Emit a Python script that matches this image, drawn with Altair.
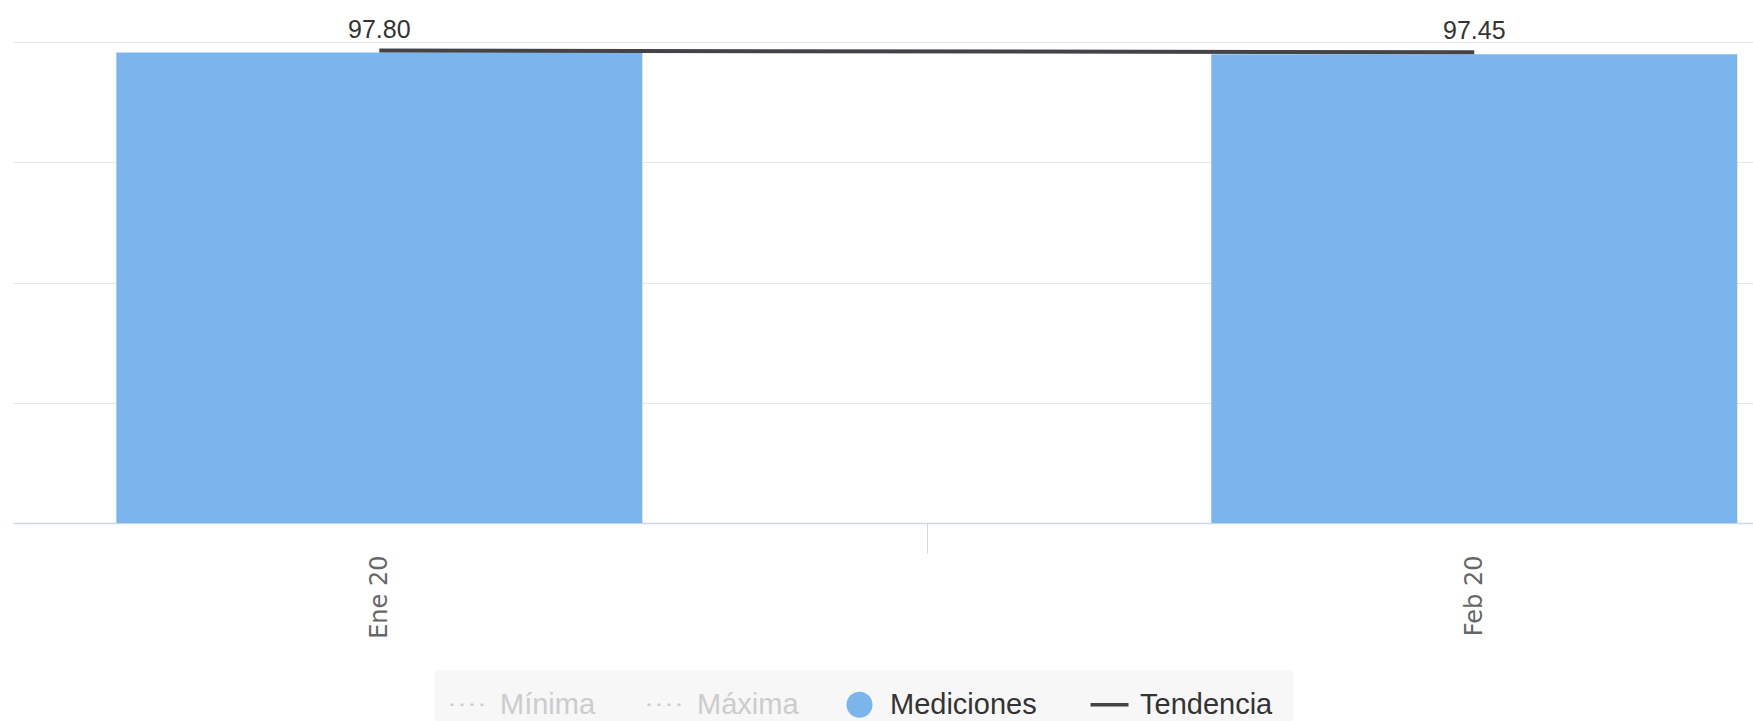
import altair as alt
import pandas as pd

# ---- data ----
meses = ["Ene 20", "Feb 20"]
mediciones = [97.80, 97.45]
tendencia = [97.80, 97.45]
series = ["Mínima", "Máxima", "Mediciones", "Tendencia"]
colores = ["#cccccc", "#cccccc", "#7cb5ec", "#434348"]
ocultas = ["Mínima", "Máxima"]
y_grid = [0, 25, 50, 75, 100]

idx = list(range(len(meses)))
df = pd.DataFrame({
    "idx": idx,
    "mes": meses,
    "valor": mediciones,
    "tend": tendencia,
    "serie": ["Mediciones"] * len(meses),
})

label_expr = " : ".join(
    [f"datum.value == {i} ? '{m}'" for i, m in zip(idx, meses)] + ["''"]
)
mid_ticks = [i + 0.5 for i in idx[:-1]]
x_values = sorted(idx + mid_ticks)
tick_test = " || ".join(f"datum.value == {v}" for v in mid_ticks)

hidden_test = " || ".join(f"datum.label == '{s}'" for s in ocultas)

x_enc = alt.X(
    "idx:Q",
    scale=alt.Scale(domain=[-0.33, 1.25], nice=False, zero=False),
    axis=alt.Axis(
        values=x_values,
        labelExpr=label_expr,
        labelAngle=270,
        labelOverlap=False,
        labelFlush=False,
        labelFont="DejaVu Sans",
        labelFontSize=24,
        labelColor="#666666",
        labelPadding=2,
        tickSize=30,
        tickColor="#ccd6eb",
        tickWidth=1,
        tickOpacity=alt.condition(tick_test, alt.value(1), alt.value(0)),
        domainColor="#ccd6eb",
        domainWidth=1.5,
        grid=False,
        title=None,
    ),
)

y_enc = alt.Y(
    "valor:Q",
    scale=alt.Scale(domain=[0, 100], nice=False),
    axis=alt.Axis(
        values=y_grid,
        labels=False,
        ticks=False,
        domain=False,
        grid=True,
        gridColor="#e6e6e6",
        gridWidth=1,
        title=None,
    ),
)

legend = alt.Legend(
    title=None,
    orient="none",
    legendX=422,
    legendY=628,
    direction="horizontal",
    fillColor="#f7f7f7",
    padding=20,
    columnPadding=46,
    labelOffset=16,
    labelFont="Liberation Sans",
    labelFontSize=29,
    labelColor=alt.ExprRef(expr=f"({hidden_test}) ? '#cccccc' : '#333333'"),
    symbolType=alt.ExprRef(expr="datum.value == 'Mediciones' ? 'circle' : 'stroke'"),
    symbolSize=alt.ExprRef(expr="datum.value == 'Mediciones' ? 676 : 1444"),
    symbolStrokeColor=alt.ExprRef(expr="scale('color', datum.value)"),
    symbolFillColor=alt.ExprRef(expr="scale('color', datum.value)"),
    symbolStrokeWidth=alt.ExprRef(
        expr="datum.value == 'Mediciones' ? 0 : (datum.value == 'Tendencia' ? 3.5 : 2.5)"
    ),
    symbolDash=alt.ExprRef(
        expr="(datum.value == 'Mediciones' || datum.value == 'Tendencia') ? [1, 0] : [3, 7]"
    ),
    symbolOpacity=1,
)

base = alt.Chart(df)

bars = base.mark_bar(width=526).encode(
    x=x_enc,
    y=y_enc,
    color=alt.Color("serie:N", scale=alt.Scale(domain=series, range=colores), legend=legend),
)

line = base.mark_line(color="#434348", strokeWidth=4, yOffset=-2).encode(
    x="idx:Q",
    y="tend:Q",
)

labels = base.mark_text(
    dy=-15, baseline="alphabetic", align="center",
    font="Liberation Sans", fontSize=25, color="#333333",
).encode(
    x="idx:Q",
    y="valor:Q",
    text=alt.Text("valor:Q", format=".2f"),
)

chart = (
    alt.layer(bars, line, labels)
    .properties(
        width=1740,
        height=481,
        padding={"left": 13, "top": 42, "right": 0, "bottom": 198},
        autosize=alt.AutoSizeParams(type="none"),
        background="white",
    )
    .configure_view(stroke=None)
)

chart.save("out.html", embed_options={"renderer": "svg", "actions": False})
